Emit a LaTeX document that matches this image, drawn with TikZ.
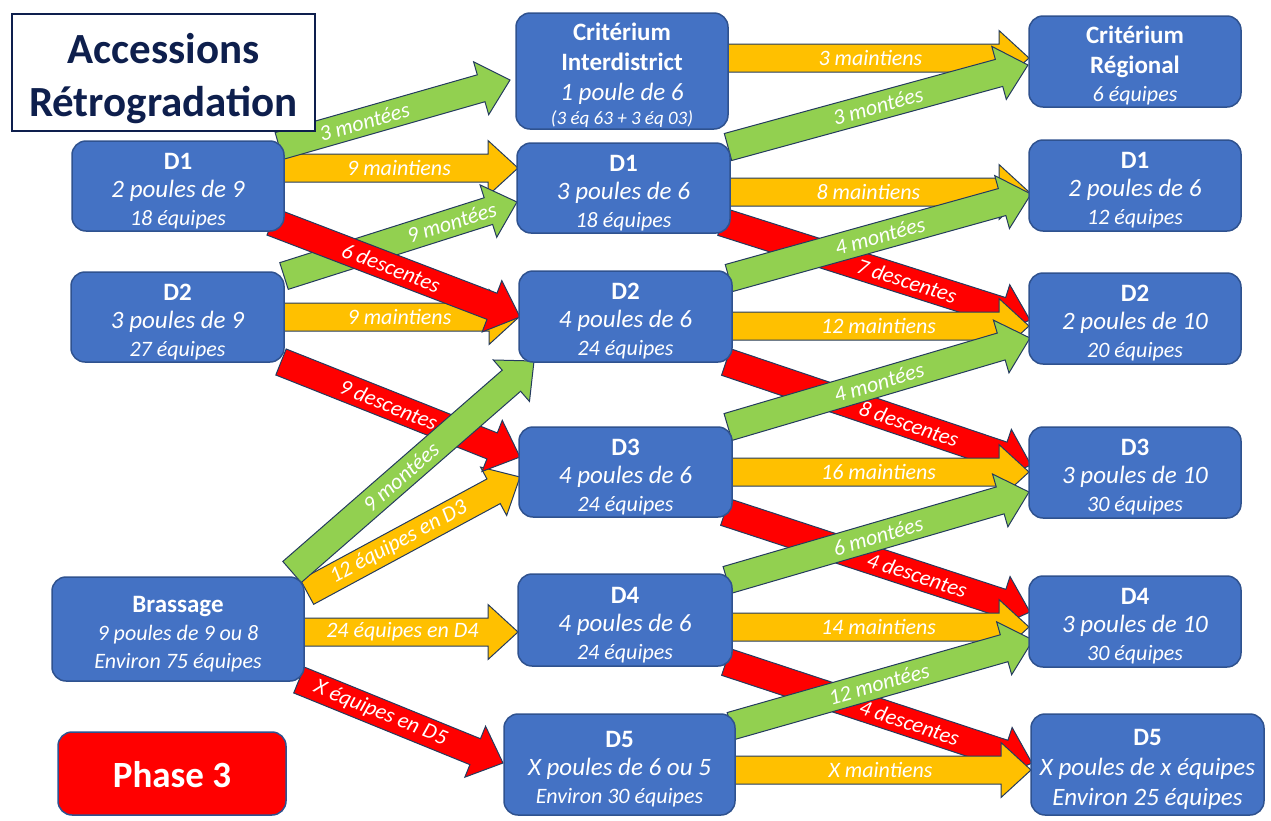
\documentclass[tikz,border=0pt]{standalone}
\usepackage{fontspec}
\setmainfont{Carlito}
\usetikzlibrary{calc}
\definecolor{boxblue}{HTML}{4472C4}
\definecolor{boxedge}{HTML}{2F528F}
\definecolor{agreen}{HTML}{92D050}
\definecolor{ayellow}{HTML}{FFC000}
\definecolor{ared}{HTML}{FF0000}
\definecolor{aedge}{HTML}{243B5E}
\definecolor{navy}{HTML}{0E1F4D}
\tikzset{
  box/.style={draw=boxedge, line width=1.5pt, fill=boxblue, rounded corners=14pt,
    text=white, align=center, inner sep=0pt, font=\fontsize{25}{28}\selectfont},
  arrowbody/.style={draw=aedge, line width=1pt, line join=miter},
  alabel/.style={text=white, inner sep=0pt, font=\fontsize{22}{24}\selectfont\itshape},
}
\newcommand\barrow[5]{%
  \path let \p1=(#1), \p2=(#2) in \pgfextra{%
    \pgfmathparse{atan2(\y2-\y1,\x2-\x1)}\xdef\baang{\pgfmathresult}%
    \pgfmathparse{veclen(\x2-\x1,\y2-\y1)}\xdef\balen{\pgfmathresult}};
  \begin{scope}[shift={(#1)}, rotate=\baang, x=1pt, y=1pt]
    \draw[arrowbody, fill=#3] (0,-14) -- (\balen-30,-14) -- (\balen-30,-27.5) -- (\balen,0)
      -- (\balen-30,27.5) -- (\balen-30,14) -- (0,14) -- cycle;
    \node[alabel, rotate=\baang] at (#5*\balen,0) {#4};
  \end{scope}}
\newcommand\boxtl[1]{\rule{0pt}{26pt}\textbf{#1}}
\newcommand\boxbl[1]{\textbf{#1}}
\newcommand\boxil[1]{{\fontsize{25}{28}\selectfont\itshape #1}}
\newcommand\boxsl[1]{{\fontsize{22}{28}\selectfont\itshape #1}}
\begin{document}
\begin{tikzpicture}[x=1pt,y=-1pt]
\useasboundingbox (0,0) rectangle (1271,820);
% ---------- arrow end points ----------
\coordinate (a1s) at (279,146);  \coordinate (a1e) at (510,80);
\coordinate (a2s) at (280,168);  \coordinate (a2e) at (518,168);
\coordinate (a3s) at (272,222);  \coordinate (a3e) at (520,317);
\coordinate (a4s) at (284,276);  \coordinate (a4e) at (517,202);
\coordinate (a5s) at (280,317);  \coordinate (a5e) at (519,317);
\coordinate (a6s) at (281,362);  \coordinate (a6e) at (520,457);
\coordinate (a7s) at (292,572);  \coordinate (a7e) at (534,361);
\coordinate (a8s) at (307,592);  \coordinate (a8e) at (520,477);
\coordinate (a9s) at (300,632);  \coordinate (a9e) at (518,632);
\coordinate (a10s) at (299,680); \coordinate (a10e) at (503,763);
\coordinate (a11s) at (724,58);  \coordinate (a11e) at (1029,58);
\coordinate (a12s) at (728,147); \coordinate (a12e) at (1028,65);
\coordinate (a13s) at (726,192); \coordinate (a13e) at (1029,192);
\coordinate (a14s) at (722,222); \coordinate (a14e) at (1030,320);
\coordinate (a15s) at (729,278); \coordinate (a15e) at (1031,194);
\coordinate (a16s) at (728,326); \coordinate (a16e) at (1029,326);
\coordinate (a17s) at (726,362); \coordinate (a17e) at (1031,465);
\coordinate (a18s) at (728,427); \coordinate (a18e) at (1030,338);
\coordinate (a19s) at (728,472); \coordinate (a19e) at (1029,472);
\coordinate (a20s) at (725,512); \coordinate (a20e) at (1030,612);
\coordinate (a21s) at (727,580); \coordinate (a21e) at (1029,492);
\coordinate (a22s) at (728,627); \coordinate (a22e) at (1029,627);
\coordinate (a23s) at (726,662); \coordinate (a23e) at (1032,763);
\coordinate (a24s) at (731,726); \coordinate (a24e) at (1033,640);
\coordinate (a25s) at (730,770); \coordinate (a25e) at (1031,770);
% ---------- left arrows ----------
\barrow{a2s}{a2e}{ayellow}{9 maintiens}{0.5}
\barrow{a5s}{a5e}{ayellow}{9 maintiens}{0.5}
\barrow{a9s}{a9e}{ayellow}{24 équipes en D4}{0.47}
\barrow{a8s}{a8e}{ayellow}{12 équipes en D3}{0.43}
\barrow{a4s}{a4e}{agreen}{9 montées}{0.72}
\barrow{a1s}{a1e}{agreen}{3 montées}{0.37}
\barrow{a3s}{a3e}{ared}{6 descentes}{0.48}
\barrow{a6s}{a6e}{ared}{9 descentes}{0.45}
\barrow{a10s}{a10e}{ared}{X équipes en D5}{0.4}
\barrow{a7s}{a7e}{agreen}{9 montées}{0.45}
% ---------- right arrows ----------
\barrow{a14s}{a14e}{ared}{7 descentes}{0.6}
\barrow{a17s}{a17e}{ared}{8 descentes}{0.6}
\barrow{a20s}{a20e}{ared}{4 descentes}{0.63}
\barrow{a23s}{a23e}{ared}{4 descentes}{0.6}
\barrow{a11s}{a11e}{ayellow}{3 maintiens}{0.48}
\barrow{a13s}{a13e}{ayellow}{8 maintiens}{0.47}
\barrow{a16s}{a16e}{ayellow}{12 maintiens}{0.5}
\barrow{a19s}{a19e}{ayellow}{16 maintiens}{0.5}
\barrow{a22s}{a22e}{ayellow}{14 maintiens}{0.5}
\barrow{a25s}{a25e}{ayellow}{X maintiens}{0.5}
\barrow{a12s}{a12e}{agreen}{3 montées}{0.5}
\barrow{a15s}{a15e}{agreen}{4 montées}{0.5}
\barrow{a18s}{a18e}{agreen}{4 montées}{0.5}
\barrow{a21s}{a21e}{agreen}{6 montées}{0.5}
\barrow{a24s}{a24e}{agreen}{12 montées}{0.49}
% ---------- boxes ----------
\node[draw=navy, line width=1.5pt, fill=white, minimum width=303, minimum height=117,
  inner sep=0pt] (title) at (163.5,72.5) {};
\node[inner sep=0pt, align=center, text=navy, font=\fontsize{43}{53}\selectfont\bfseries]
  (titletext) at (163.5,79) {Accessions\\Rétrogradation};
\node[box, fill=ared, minimum width=228, minimum height=83, font=\fontsize{37}{40}\selectfont\bfseries]
  (phase) at (172,773.5) {\rule{0pt}{28pt}Phase 3};

\node[box, minimum width=212, minimum height=90] (d1l) at (178,186) {\boxtl{D1}\\\boxil{2 poules de 9}\\\boxsl{18 équipes}};
\node[box, minimum width=213, minimum height=90] (d2l) at (177.5,317) {\boxtl{D2}\\\boxil{3 poules de 9}\\\boxsl{27 équipes}};
\node[box, minimum width=252, minimum height=104] (bra) at (178,629) {\boxtl{Brassage}\\\boxsl{9 poules de 9 ou 8}\\\boxsl{Environ 75 équipes}};

\node[box, minimum width=212, minimum height=116] (ci) at (622,71)
  {\boxtl{Critérium}\\[2pt]\boxbl{Interdistrict}\\[2pt]\boxil{1 poule de 6}\\[-4pt]{\fontsize{19}{22}\selectfont\itshape (3 éq 63 + 3 éq 03)}};
\node[box, minimum width=213, minimum height=90] (d1m) at (623.5,188) {\boxtl{D1}\\\boxil{3 poules de 6}\\\boxsl{18 équipes}};
\node[box, minimum width=213, minimum height=91] (d2m) at (625.5,316.5) {\boxtl{D2}\\\boxil{4 poules de 6}\\\boxsl{24 équipes}};
\node[box, minimum width=213, minimum height=90] (d3m) at (625.5,472) {\boxtl{D3}\\\boxil{4 poules de 6}\\\boxsl{24 équipes}};
\node[box, minimum width=214, minimum height=92] (d4m) at (625,620) {\boxtl{D4}\\\boxil{4 poules de 6}\\\boxsl{24 équipes}};
\node[box, minimum width=231, minimum height=101] (d5m) at (619.5,764.5) {\boxtl{D5}\\\boxil{X poules de 6 ou 5}\\\boxsl{Environ 30 équipes}};

\node[box, minimum width=212, minimum height=91] (cr) at (1135,61.5) {\boxtl{Critérium}\\[2pt]\boxbl{Régional}\\\boxsl{6 équipes}};
\node[box, minimum width=212, minimum height=91] (d1r) at (1135,185.5) {\boxtl{D1}\\\boxil{2 poules de 6}\\\boxsl{12 équipes}};
\node[box, minimum width=212, minimum height=91] (d2r) at (1135,318.5) {\boxtl{D2}\\\boxil{2 poules de 10}\\\boxsl{20 équipes}};
\node[box, minimum width=212, minimum height=91] (d3r) at (1135,472.5) {\boxtl{D3}\\\boxil{3 poules de 10}\\\boxsl{30 équipes}};
\node[box, minimum width=212, minimum height=91] (d4r) at (1135,621.5) {\boxtl{D4}\\\boxil{3 poules de 10}\\\boxsl{30 équipes}};
\node[box, minimum width=233, minimum height=101] (d5r) at (1147.5,764.5) {\boxtl{D5}\\[2pt]\boxil{X poules de x équipes}\\[2pt]\boxil{Environ 25 équipes}};
\end{tikzpicture}
\end{document}
